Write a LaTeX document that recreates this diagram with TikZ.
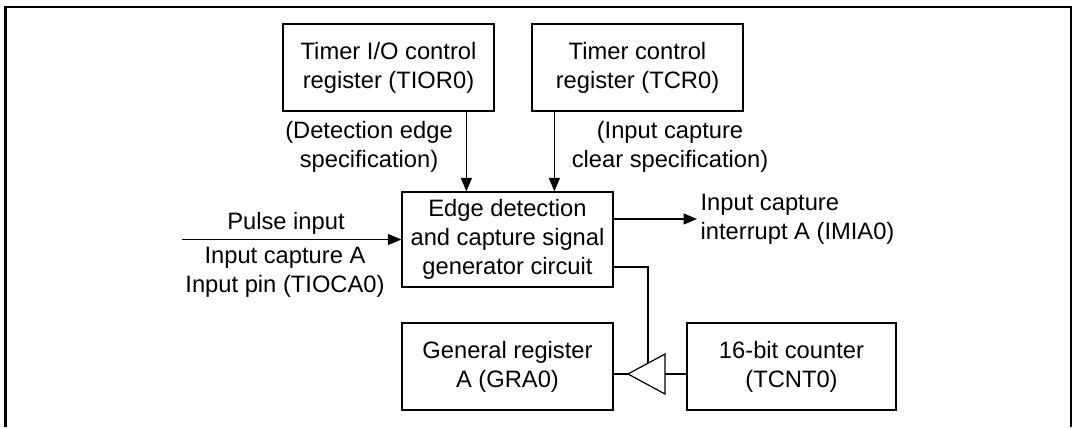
\documentclass[tikz,border=0pt]{standalone}
\usepackage{fontspec}
\setmainfont{Liberation Sans}
\usetikzlibrary{arrows.meta}
\tikzset{>={Triangle[length=2.7mm,width=2.2mm]}}
\tikzset{blk/.style={draw,line width=.7pt,minimum width=4.22cm,minimum height=1.74cm,align=center,inner sep=0pt},
	txt/.style={align=center,inner sep=0pt}}

\begin{document}
\begin{tikzpicture}[line width=.7pt,font=\fontsize{13.5}{16.5}\selectfont]
	\useasboundingbox (0,0) rectangle (21.5,8.54);
	\draw[line width=1.5pt](0.11,0)--(0.11,8.4)--(21.42,8.4)--(21.42,0);

	\node[blk] (tior) at (7.77,7.19) {Timer I/O control\\register (TIOR0)};
	\node[blk] (tcr) at (12.75,7.19) {Timer control\\register (TCR0)};
	\node[blk,minimum height=1.9cm] (edge) at (10.15,3.75) {Edge detection\\and capture signal\\generator circuit};
	\node[blk] (gra) at (10.15,1.21) {General register\\A (GRA0)};
	\node[blk,minimum width=4.18cm] (tcnt) at (15.83,1.21) {16-bit counter\\(TCNT0)};

	\coordinate (in1) at ([xshift=1.3cm]edge.north west);
	\coordinate (in2) at ([xshift=3.06cm]edge.north west);
	\draw[->](tior.south -| in1)--(in1);
	\draw[->](tcr.south -| in2)--(in2);
	\node[txt] (tiorlbl) at (7.38,5.6) {(Detection edge\\specification)};
	\node[txt] (tcrlbl) at (13.4,5.6) {(Input capture\\clear specification)};

	\coordinate (pin) at (3.64,3.75);
	\draw[->](pin)--(edge.west);
	\node[txt] (pulselbl) at (5.72,4.08) {Pulse input};
	\node[txt] (pinlbl) at (5.7,3.09) {Input capture A\\Input pin (TIOCA0)};

	\coordinate (irq) at (13.94,4.16);
	\draw[->]([yshift=.41cm]edge.east)--(irq);
	\node[txt,align=left,anchor=west] (irqlbl) at ([xshift=.06cm]irq) {Input capture\\interrupt A (IMIA0)};

	\coordinate (buftip) at (12.56,1.06);
	\coordinate (buftop) at (13.3,1.46);
	\coordinate (bufbot) at (13.3,0.66);
	\coordinate (bend) at (12.96,3.2);
	\coordinate (bufin) at (12.96,1.28);
	\draw(buftip)--(buftop)--(bufbot)--cycle;
	\draw(edge.east |- bend)--(bend)--(bufin);
	\draw(gra.east |- buftip)--(buftip);
	\draw(tcnt.west |- buftip)--(buftip -| buftop);

\end{tikzpicture}
\end{document}
